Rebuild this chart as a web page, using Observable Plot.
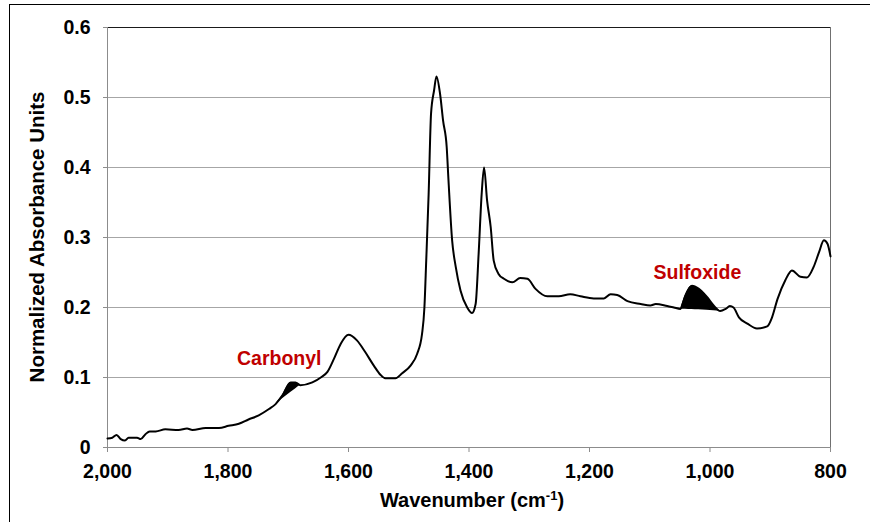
<!DOCTYPE html>
<html>
<head>
<meta charset="utf-8">
<script src="https://cdn.jsdelivr.net/npm/d3@7"></script>
<script src="https://cdn.jsdelivr.net/npm/@observablehq/plot@0.6"></script>
<style>
  html, body { margin: 0; padding: 0; background: #fff; overflow: hidden; }
  #wrap { position: relative; width: 870px; height: 522px; }
  #wrap svg { position: absolute; left: 0; top: 0; }
  #border { position: absolute; left: 9px; top: 4px; width: 900px; height: 600px;
            border-left: 1.5px solid #000; border-top: 1.5px solid #000; pointer-events: none; }
</style>
</head>
<body>
<div id="wrap"><div id="border"></div></div>
<script>
// FTIR spectrum of the aged binder: wavenumber (cm-1) and normalized absorbance
const wavenumber = [
  2000, 1992, 1985, 1978, 1971, 1965, 1951, 1945, 1937, 1930, 1920, 1904, 1882, 1868, 1859,
  1837, 1815, 1799, 1782, 1766, 1749, 1732, 1721, 1710, 1696, 1688, 1680, 1660, 1646, 1635,
  1624, 1613, 1600, 1586, 1572, 1558, 1547, 1539, 1522, 1511, 1497, 1486, 1478, 1474, 1471,
  1467, 1463, 1458, 1454, 1448, 1443, 1437, 1434, 1428, 1422, 1414, 1403, 1395, 1389, 1384,
  1379, 1375, 1370, 1364, 1359, 1351, 1342, 1328, 1315, 1303, 1290, 1270, 1251, 1232, 1215,
  1193, 1176, 1165, 1154, 1137, 1115, 1099, 1090, 1071, 1060, 1049, 1041, 1030, 1019, 1005,
  994, 983, 974, 967, 961, 952, 938, 922, 905, 897, 888, 875, 864, 850, 839,
  828, 819, 811, 805, 800
];
const absorbance = [
  0.013, 0.014, 0.018, 0.012, 0.010, 0.014, 0.014, 0.012, 0.019, 0.023, 0.023, 0.026, 0.025, 0.027, 0.025,
  0.028, 0.028, 0.031, 0.034, 0.040, 0.046, 0.055, 0.062, 0.074, 0.093, 0.093, 0.089, 0.093, 0.100, 0.108,
  0.127, 0.148, 0.161, 0.153, 0.136, 0.117, 0.104, 0.099, 0.099, 0.106, 0.117, 0.134, 0.162, 0.200, 0.267,
  0.362, 0.477, 0.510, 0.530, 0.505, 0.467, 0.429, 0.381, 0.296, 0.258, 0.224, 0.200, 0.192, 0.205, 0.277,
  0.362, 0.400, 0.353, 0.315, 0.267, 0.248, 0.241, 0.236, 0.242, 0.241, 0.227, 0.216, 0.216, 0.219, 0.216,
  0.213, 0.213, 0.219, 0.218, 0.209, 0.205, 0.203, 0.205, 0.202, 0.200, 0.198, 0.217, 0.231, 0.227, 0.215,
  0.203, 0.195, 0.198, 0.202, 0.200, 0.186, 0.177, 0.170, 0.173, 0.186, 0.212, 0.239, 0.253, 0.244, 0.243,
  0.258, 0.279, 0.296, 0.291, 0.273
];

// Integrated bands (shaded between the spectrum and a straight baseline)
const bandNames = ["Carbonyl", "Sulfoxide"];
const bandFrom = [1721, 1049];
const bandTo = [1680, 983];
const bandLabelX = [1715, 1021];
const bandLabelY = [0.127, 0.250];

const xTicks = [2000, 1800, 1600, 1400, 1200, 1000, 800];
const yTicks = [0, 0.1, 0.2, 0.3, 0.4, 0.5, 0.6];

const spectrum = wavenumber.map((wn, i) => ({wn, a: absorbance[i]}));

const bandRows = bandNames.flatMap((band, k) => {
  const hi = bandFrom[k], lo = bandTo[k];
  const pts = spectrum.filter(d => d.wn <= hi && d.wn >= lo);
  const p0 = pts[0], p1 = pts[pts.length - 1];
  return pts.map(d => ({
    band, wn: d.wn, a: d.a,
    base: p0.a + (p1.a - p0.a) * (d.wn - p0.wn) / (p1.wn - p0.wn)
  }));
});

const labels = bandNames.map((name, k) => ({name, x: bandLabelX[k], y: bandLabelY[k]}));

const font = "'Liberation Sans', Arial, Helvetica, sans-serif";

const chart = Plot.plot({
  width: 870,
  height: 522,
  marginLeft: 107,
  marginRight: 40,
  marginTop: 27,
  marginBottom: 75,
  x: {domain: [2000, 800]},
  y: {domain: [0, 0.6]},
  style: {fontFamily: font, fontWeight: "bold", background: "transparent", overflow: "visible", color: "#000"},
  marks: [
    Plot.gridY(yTicks.slice(1, -1), {stroke: "#a6a6a6", strokeOpacity: 1}),
    Plot.ruleY([0.6], {stroke: "#1a1a1a"}),
    Plot.ruleX([800], {stroke: "#707070"}),
    Plot.ruleX([2000], {stroke: "#8c8c8c"}),
    Plot.ruleY([0], {stroke: "#8c8c8c"}),
    Plot.axisX(xTicks, {
      tickSize: 5, tickPadding: 12, stroke: "#8c8c8c", fill: "#000",
      tickFormat: d3.format(","), fontSize: 19.5, label: null
    }),
    Plot.axisY(yTicks, {
      tickSize: 4, tickPadding: 13, stroke: "#8c8c8c", fill: "#000",
      tickFormat: d => d === 0 ? "0" : d.toFixed(1), fontSize: 19.5, label: null
    }),
    Plot.areaY(bandRows, {x: "wn", y1: "base", y2: "a", z: "band", fill: "#000", curve: "monotone-x"}),
    Plot.line(spectrum, {x: "wn", y: "a", stroke: "#000", strokeWidth: 2, curve: "monotone-x"}),
    Plot.text(labels, {
      x: "x", y: "y", text: "name", fill: "#c00000",
      fontSize: 19.5, fontWeight: "bold", textAnchor: "middle"
    })
  ]
});

// Axis titles, with a superscript in the wavenumber unit
const svg = d3.select(chart);
const xt = svg.append("text")
  .attr("x", 472).attr("y", 507)
  .attr("text-anchor", "middle")
  .style("font-family", font).style("font-weight", "bold").style("font-size", "20px")
  .attr("fill", "#000");
xt.append("tspan").text("Wavenumber (cm");
xt.append("tspan").attr("dy", "-7").style("font-size", "13px").text("-1");
xt.append("tspan").attr("dy", "7").text(")");

svg.append("text")
  .attr("transform", "translate(44,237) rotate(-90)")
  .attr("text-anchor", "middle")
  .style("font-family", font).style("font-weight", "bold").style("font-size", "20.5px")
  .attr("fill", "#000")
  .text("Normalized Absorbance Units");

document.getElementById("wrap").appendChild(chart);
</script>
</body>
</html>
